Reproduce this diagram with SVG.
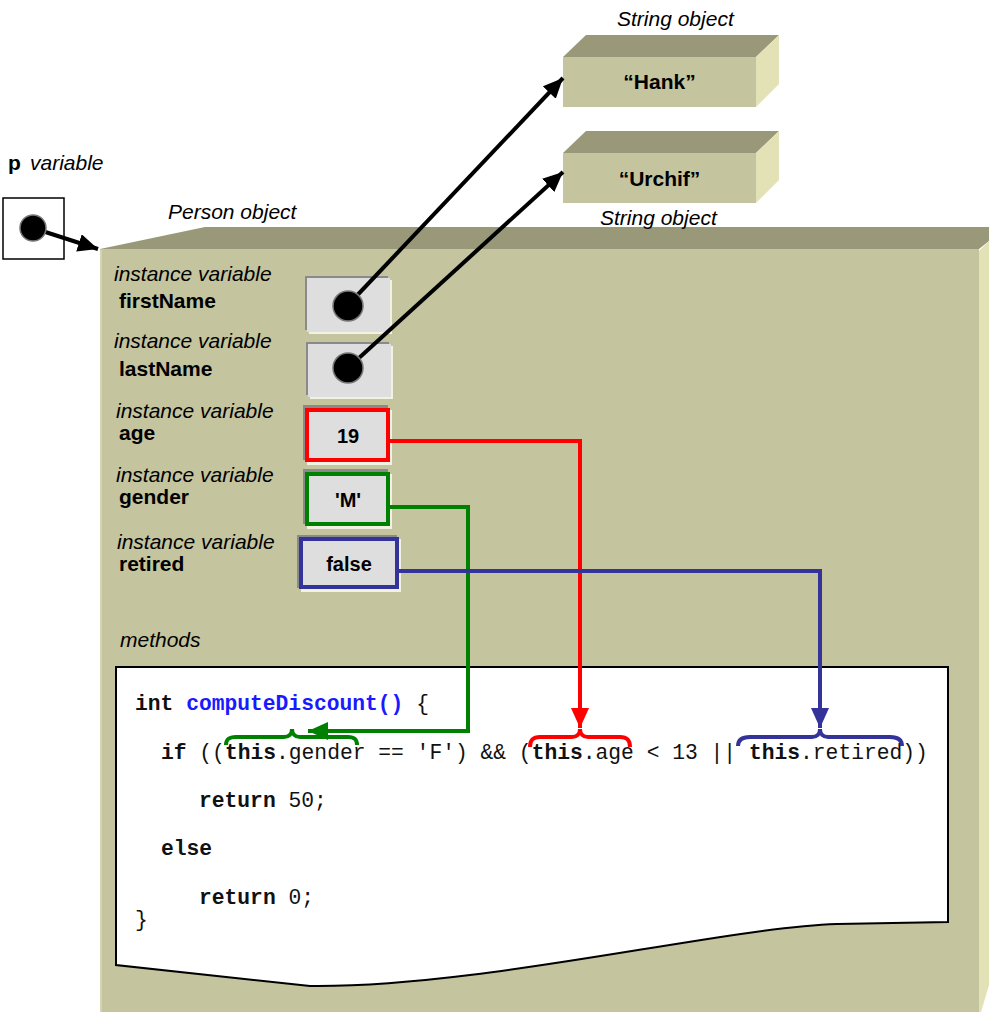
<svg xmlns="http://www.w3.org/2000/svg" width="989" height="1012" viewBox="0 0 989 1012">
  <style>
    .lbl { font-family: "Liberation Sans", Arial, sans-serif; font-size: 21px; fill: #000; }
    .it { font-style: italic; }
    .b { font-weight: bold; }
    .val { font-family: "Liberation Sans", Arial, sans-serif; font-size: 20px; font-weight: bold; text-anchor: middle; }
    .code { font-family: "Liberation Mono", "Courier New", monospace; font-size: 21.3px; fill: #111; white-space: pre; }
    .kw { font-weight: bold; }
    .fn { font-weight: bold; fill: #1a1aff; }
    .front { fill: #c4c49e; }
    .top { fill: #99997a; }
    .side { fill: #e2e2b6; }
    .shadow { fill: #8a8a8a; }
    .hl { fill: #f2f2e4; }
    .cell { fill: #dedede; }
    .ref { stroke: #000; stroke-width: 4; fill: none; }
    .dot { fill: #000; stroke: #777; stroke-width: 1.5; }
  </style>
  <defs>
    <marker id="ahBlack" markerUnits="userSpaceOnUse" markerWidth="22" markerHeight="18" refX="20" refY="9" orient="auto">
      <path d="M0,0 L20,9 L0,18 Z" fill="#000"/>
    </marker>
    <marker id="ahGreen" markerUnits="userSpaceOnUse" markerWidth="22" markerHeight="18" refX="20" refY="9" orient="auto">
      <path d="M0,0 L20,9 L0,18 Z" fill="#008000"/>
    </marker>
    <marker id="ahRed" markerUnits="userSpaceOnUse" markerWidth="22" markerHeight="18" refX="20" refY="9" orient="auto">
      <path d="M0,0 L20,9 L0,18 Z" fill="#ff0000"/>
    </marker>
    <marker id="ahBlue" markerUnits="userSpaceOnUse" markerWidth="22" markerHeight="18" refX="20" refY="9" orient="auto">
      <path d="M0,0 L20,9 L0,18 Z" fill="#333399"/>
    </marker>
  </defs>

  <rect width="989" height="1012" fill="#fff"/>

  <!-- p variable -->
  <g id="p-variable">
    <text class="lbl b" x="8" y="170" font-size="22">p</text>
    <text class="lbl it" x="30" y="170" font-size="18.5">variable</text>
    <rect x="3" y="198" width="61" height="61" fill="#fff" stroke="#000" stroke-width="1.5"/>
  </g>

  <!-- Person object block -->
  <g id="person-object">
    <polygon class="top" points="100,249 205,227 989,227 989,241 979,249"/>
    <polygon class="side" points="979,251 989,241 989,985 981,1012 979,1012"/>
    <rect class="front" x="100" y="249" width="879" height="763"/>
    <line x1="101" y1="250" x2="101" y2="1012" stroke="#d4d4b2" stroke-width="2"/>
    <text class="lbl it" x="168" y="219">Person object</text>
  </g>

  <!-- String objects -->
  <g id="string-hank">
    <text class="lbl it" x="617" y="26">String object</text>
    <polygon class="top" points="563,57 586,35 779,35 756,57"/>
    <polygon class="side" points="756,57 779,35 779,84 756,107"/>
    <rect class="front" x="563" y="57" width="193" height="50"/>
    <text class="lbl b" x="659.5" y="89" text-anchor="middle">“Hank”</text>
  </g>
  <g id="string-urchif">
    <polygon class="top" points="563,153 586,131 779,131 756,153"/>
    <polygon class="side" points="756,153 779,131 779,180 756,203"/>
    <rect class="front" x="563" y="153" width="193" height="50"/>
    <text class="lbl b" x="659.5" y="186" text-anchor="middle">“Urchif”</text>
    <text class="lbl it" x="600" y="225">String object</text>
  </g>

  <!-- instance variable labels -->
  <g id="label-firstName">
    <text class="lbl it" x="114" y="281">instance variable</text>
    <text class="lbl b" x="119" y="308">firstName</text>
  </g>
  <g id="label-lastName">
    <text class="lbl it" x="114" y="348">instance variable</text>
    <text class="lbl b" x="119" y="376">lastName</text>
  </g>
  <g id="label-age">
    <text class="lbl it" x="116" y="418">instance variable</text>
    <text class="lbl b" x="119" y="440">age</text>
  </g>
  <g id="label-gender">
    <text class="lbl it" x="116" y="482">instance variable</text>
    <text class="lbl b" x="119" y="504">gender</text>
  </g>
  <g id="label-retired">
    <text class="lbl it" x="117" y="549">instance variable</text>
    <text class="lbl b" x="119" y="571">retired</text>
  </g>
  <g id="label-methods">
    <text class="lbl it" x="120" y="647">methods</text>
  </g>

  <!-- field cells -->
  <g id="cell-firstName">
    <rect class="shadow" x="305" y="276" width="83" height="54"/>
    <rect class="hl" x="309" y="280" width="83" height="54"/>
    <rect class="cell" x="307" y="278" width="83" height="54"/>
  </g>
  <g id="cell-lastName">
    <rect class="shadow" x="306" y="342" width="83" height="53"/>
    <rect class="hl" x="310" y="346" width="83" height="53"/>
    <rect class="cell" x="308" y="344" width="83" height="53"/>
  </g>
  <g id="cell-age">
    <rect class="shadow" x="303" y="405" width="85" height="55"/>
    <rect class="hl" x="307" y="410" width="85" height="55"/>
    <rect class="cell" x="307" y="410" width="81" height="50" stroke="#ff0000" stroke-width="4"/>
    <text class="val" x="348" y="443">19</text>
  </g>
  <g id="cell-gender">
    <rect class="shadow" x="303" y="469" width="85" height="55"/>
    <rect class="hl" x="307" y="474" width="85" height="55"/>
    <rect class="cell" x="307" y="474" width="81" height="50" stroke="#008000" stroke-width="4"/>
    <text class="val" x="348" y="507">'M'</text>
  </g>
  <g id="cell-retired">
    <rect class="shadow" x="297" y="535" width="100" height="53"/>
    <rect class="hl" x="301" y="539" width="100" height="53"/>
    <rect class="cell" x="301" y="539" width="96" height="48" stroke="#333399" stroke-width="4"/>
    <text class="val" x="349" y="571">false</text>
  </g>

  <!-- method code panel with torn lower edge -->
  <g id="method-code">
    <path d="M116,667 H948 V922 L837,924 C720,928 480,988 310,986 L116,965 Z" fill="#fff" stroke="#000" stroke-width="2"/>
    <text class="code" x="135" y="710"><tspan class="kw">int</tspan> <tspan class="fn">computeDiscount()</tspan> {</text>
    <text class="code" x="161" y="759"><tspan class="kw">if</tspan> ((<tspan class="kw">this</tspan>.gender == 'F') &amp;&amp; (<tspan class="kw">this</tspan>.age &lt; 13 || <tspan class="kw">this</tspan>.retired))</text>
    <text class="code" x="199" y="807"><tspan class="kw">return</tspan> 50;</text>
    <text class="code" x="161" y="855"><tspan class="kw">else</tspan></text>
    <text class="code" x="199" y="904"><tspan class="kw">return</tspan> 0;</text>
    <text class="code" x="135" y="926">}</text>
  </g>

  <!-- connectors -->
  <g id="connectors">
    <line class="ref" x1="33" y1="228" x2="98" y2="249" marker-end="url(#ahBlack)"/>
    <line class="ref" x1="348" y1="305" x2="563" y2="78" marker-end="url(#ahBlack)"/>
    <line class="ref" x1="348" y1="368" x2="563" y2="172" marker-end="url(#ahBlack)"/>
    <circle class="dot" cx="33" cy="228" r="13"/>
    <circle class="dot" cx="348" cy="306" r="15"/>
    <circle class="dot" cx="348" cy="368" r="15"/>

    <path d="M390,507 H468 V731 H308" fill="none" stroke="#008000" stroke-width="4" marker-end="url(#ahGreen)"/>
    <path d="M226,745 C226,739 229,737 236,737 H284 C289,737 292,734 292,729 C292,734 295,737 300,737 H348 C354,737 357,739 357,745" fill="none" stroke="#008000" stroke-width="4"/>

    <path d="M390,441 H580 V728" fill="none" stroke="#ff0000" stroke-width="4" marker-end="url(#ahRed)"/>
    <path d="M530,747 C530,740 533,737 540,737 H572 C577,737 580,734 580,729 C580,734 583,737 588,737 H620 C627,737 630,740 630,747" fill="none" stroke="#ff0000" stroke-width="4"/>

    <path d="M398,571 H820 V728" fill="none" stroke="#333399" stroke-width="4" marker-end="url(#ahBlue)"/>
    <path d="M738,746 C738,740 742,737 750,737 H812 C817,737 820,734 820,729 C820,734 823,737 828,737 H890 C898,737 902,740 902,746" fill="none" stroke="#333399" stroke-width="4"/>
  </g>
</svg>
